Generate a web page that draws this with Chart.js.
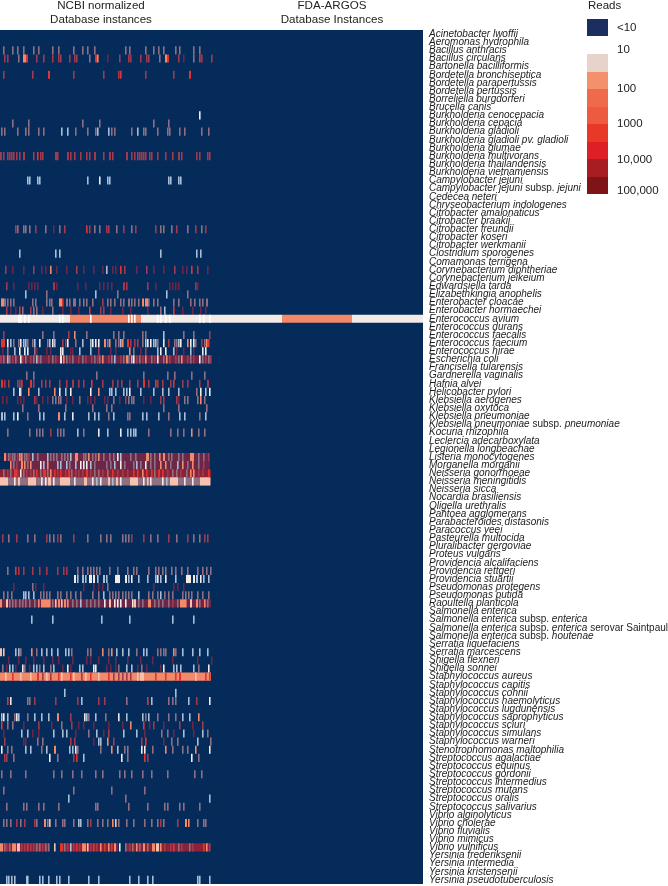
<!DOCTYPE html>
<html>
<head>
<meta charset="utf-8">
<script src="https://cdn.jsdelivr.net/npm/chart.js@4"></script>
<style>
    html, body { margin: 0; padding: 0; background: #fff; }
    body { position: relative; width: 668px; height: 886px; overflow: hidden; font-family: "Liberation Sans", sans-serif; color: #222; }
    canvas { position: absolute; left: 0; top: 0; }
    .title { position: absolute; width: 200px; text-align: center; font-size: 11.6px; line-height: 14px; top: -2px; }
    .swatch { position: absolute; left: 587px; width: 21px; }
    .leg { position: absolute; left: 617px; font-size: 11.5px; line-height: 14px; }
</style>
</head>
<body>
<canvas id="heatmap" width="668" height="886"></canvas>

<div class="title" style="left:1px">NCBI normalized<br>Database instances</div>
<div class="title" style="left:232px">FDA-ARGOS<br>Database Instances</div>
<div class="leg" style="left:588px;top:-2px">Reads</div>
<div id="legend"></div>

<script>
// ========== DATA ==========
const species = [
    'Acinetobacter lwoffii', 'Aeromonas hydrophila', 'Bacillus anthracis', 'Bacillus circulans',
    'Bartonella bacilliformis', 'Bordetella bronchiseptica', 'Bordetella parapertussis', 'Bordetella pertussis',
    'Borreliella burgdorferi', 'Brucella canis', 'Burkholderia cenocepacia', 'Burkholderia cepacia',
    'Burkholderia gladioli', 'Burkholderia gladioli pv. gladioli', 'Burkholderia glumae', 'Burkholderia multivorans',
    'Burkholderia thailandensis', 'Burkholderia vietnamiensis', 'Campylobacter jejuni', 'Campylobacter jejuni subsp. jejuni',
    'Cedecea neteri', 'Chryseobacterium indologenes', 'Citrobacter amalonaticus', 'Citrobacter braakii',
    'Citrobacter freundii', 'Citrobacter koseri', 'Citrobacter werkmanii', 'Clostridium sporogenes',
    'Comamonas terrigena', 'Corynebacterium diphtheriae', 'Corynebacterium jeikeium', 'Edwardsiella tarda',
    'Elizabethkingia anophelis', 'Enterobacter cloacae', 'Enterobacter hormaechei', 'Enterococcus avium',
    'Enterococcus durans', 'Enterococcus faecalis', 'Enterococcus faecium', 'Enterococcus hirae',
    'Escherichia coli', 'Francisella tularensis', 'Gardnerella vaginalis', 'Hafnia alvei',
    'Helicobacter pylori', 'Klebsiella aerogenes', 'Klebsiella oxytoca', 'Klebsiella pneumoniae',
    'Klebsiella pneumoniae subsp. pneumoniae', 'Kocuria rhizophila', 'Leclercia adecarboxylata', 'Legionella longbeachae',
    'Listeria monocytogenes', 'Morganella morganii', 'Neisseria gonorrhoeae', 'Neisseria meningitidis',
    'Neisseria sicca', 'Nocardia brasiliensis', 'Oligella urethralis', 'Pantoea agglomerans',
    'Parabacteroides distasonis', 'Paracoccus yeei', 'Pasteurella multocida', 'Pluralibacter gergoviae',
    'Proteus vulgaris', 'Providencia alcalifaciens', 'Providencia rettgeri', 'Providencia stuartii',
    'Pseudomonas protegens', 'Pseudomonas putida', 'Raoultella planticola', 'Salmonella enterica',
    'Salmonella enterica subsp. enterica', 'Salmonella enterica subsp. enterica serovar Saintpaul', 'Salmonella enterica subsp. houtenae', 'Serratia liquefaciens',
    'Serratia marcescens', 'Shigella flexneri', 'Shigella sonnei', 'Staphylococcus aureus',
    'Staphylococcus capitis', 'Staphylococcus cohnii', 'Staphylococcus haemolyticus', 'Staphylococcus lugdunensis',
    'Staphylococcus saprophyticus', 'Staphylococcus sciuri', 'Staphylococcus simulans', 'Staphylococcus warneri',
    'Stenotrophomonas maltophilia', 'Streptococcus agalactiae', 'Streptococcus equinus', 'Streptococcus gordonii',
    'Streptococcus intermedius', 'Streptococcus mutans', 'Streptococcus oralis', 'Streptococcus salivarius',
    'Vibrio alginolyticus', 'Vibrio cholerae', 'Vibrio fluvialis', 'Vibrio mimicus',
    'Vibrio vulnificus', 'Yersinia frederiksenii', 'Yersinia intermedia', 'Yersinia kristensenii',
    'Yersinia pseudotuberculosis'
];

// labels that mix italic and upright: [italic start, upright, italic, upright]
const mixedLabels = {
    'Campylobacter jejuni subsp. jejuni': ['Campylobacter jejuni', ' subsp. ', 'jejuni'],
    'Klebsiella pneumoniae subsp. pneumoniae': ['Klebsiella pneumoniae', ' subsp. ', 'pneumoniae'],
    'Salmonella enterica subsp. enterica': ['Salmonella enterica', ' subsp. ', 'enterica'],
    'Salmonella enterica subsp. enterica serovar Saintpaul': ['Salmonella enterica', ' subsp. ', 'enterica', ' serovar Saintpaul'],
    'Salmonella enterica subsp. houtenae': ['Salmonella enterica', ' subsp. ', 'houtenae']
};

// Cells per row: column + level letter + optional run width in columns
const r02 = '3g 12g 17g 23g 33g 38g 52g 58g 73g 82g 87g 94g 125g 129g 145g 153g 158g 163g 175g 179g 193g 199g';
const r03 = '4m 7m 18g 23s3 26r2 36m 43m 52m 58m 60m 69m 74m 76m 89g 95r2 97s 107d 119m 128m 130m 140m 146m 148m 159g 165s2 167r2 178m 183d 193g 199r 201m 211m';
const r05 = '3m 32m 48r2 73m 103m 118m 120r 145m 173m 189r2';
const r10 = '199w';
const r11 = '12g 28g 82g 99g 153g 168g';
const r12 = '1g 4g 17g 25g 28g 38g 43g 61p 67p 75g 87g 95g 97p 108p 111g 114g 131g 137p 143g 145g 157g 167g 169g 179g 184g 201g 208g';
const r15 = '0m2 3m 7m 9m 11m 13m 16m 19m 23m2 33m 37r 40m 42m 55m2 57m 67m2 70m 74m 80m 86m 89m 94m2 103m 109m2 112m 126m2 131m 134m 137m 139m 141m 143m 145m 149m 151m 157m 165m 172m 178m2 181m 196m 199m 207m 209m';
const r18 = '27p 29p 37p 39p 87p 99w 107p 109p 168p 170p 178p 180p';
const r24 = '15m 17g 23g 25g 29g 35m 45g 53d 59g 64m 86r 89m 94g 99g 106m 108m 116g 123m 131g 135m 155m 160g 163g 171g 176m 187g 195m 201g 205m';
const r27 = '19p 55p 59p 160p 196p 200p';
const r29 = '5m 12d 23d 33m 41d 45d 50s 56d 66d 76m 83d 93d 102d 106p 112d 115d 120r 124m 136d 146m 153d 163d 174m 182d 186d 191r 197m 207d';
const r31 = '6m 13d 28d 31d 34d 37d 53m2 56d 77d 85d 99d 103d 107d 111d 123m2 126m 147m 155d 169d 172d 175d 178d 195m 197d';
const r32 = '25p 46g 95p 117g 166p 187g';
const r33 = '1s3 4g2 7g 10g 13g 32g 35g 46g 49g 51g 59s3 62r 66g2 69g 73g3 79g 83g 86g 92g 102m 107g 110g 114g 120g 123g 128g2 131g 134g 138g 142s2 145s3 148g 153g 157g 173g 178g 190g 194g 199g 202g 206g2';
const r34 = '6m 10d 15d 19r 22g 30m 33g 36g 42d 52g 62d 70d 78d 89r 100m 103m 110d 122d 130d 147d 160g 164p 173r 182d 192d 200d 205d';
const r35 = '0w70 70s71 141w141 282s70 352w71 18W 20W 24W 28W 59W 62W 90W 128W 131W 134W 157W 160W 165W 169W 199W 203W 209W';
const r37 = '3m 42g 53g 68m 74s 86g 113g 118g 123g 142g 145g 163p 183g 193g 209m';
const r38 = '1r2 3r2 7w 10p 13g 18g 20w 23p 25p 27g 32g 34p 39w 47g 49p 52w 54p 62m 65m 67w 75g 82p 90p 92w 95w 98w 104s2 107g 109s 115g 118g 120p 122s 127r2 130m 134m 137m 142g 145p 147w 150w 153p 155p 157g 163w 168m 174g 176g 178p 180w 187s 190w 193w 195g 201m 204g 206s 208r';
const r39 = '2d 7g 14p 19w 24w 27w 34g 36d 46d 50d 60w 62w 70d 72d 79p 90p 98m 110d 115d 129s 133g 140d 145m 157p 160w 165w 173p 176d 183d 190p 193d 202w 205w';
const r40 = '0d211 0m2 3g 7p 9g 12m 15g 20w 22m 25g 30m 33g 36p 38m 40g 48m 52g 55m 60w2 63s 66g 69m 72g 78m 82g 85m 91m 94g 97m 99g 102s 108m 111g 114p 120m 123g 126s2 128g 131p 133w 136m 139g 142m 145s 151g 154m 157w 163g 166s 169m 175m 178g 181s 187m 190g 193m 199w 202g 205m 208g 210m';
const r42 = '26g 33g 96g 143g 167g 174g 191g 204g';
const r43 = '1r2 4m 8m 17m 19m 21r 30r2 33m 41m 45m 49m 59m 66m 72m2 78m 83m 91r 102m 112m 117m 121m 129m 137m 143r2 148m 155r 157m 162m 170m 173r 182m 187m 199m 207m2';
const r44 = '13p 19w 20p 28s 38p 54s 59w 65p 70w 90w 98s 109p 111p 115p 123p 126p 129w 140p 153p 162p 168p 178p 196g 200w 205p 209w';
const r45 = '2d 6d 17d 20d 23d 34m 36d 42d 47d 52g 55g 58g 60g 66d 72d 79g 87d 90d 94d 104d 107d 113g 119d 125m 128g 131g 133g 143d 150d 160m 163m 176m 178d 184g 187g 197g 200s 204g';
const r46 = '22g 38g 65g 92g 106g 111g 163g 178g 206g';
const r47 = '1p2 4p 13p 17w 27g 39p 43p 58s2 64p 72w 88p 94p 98p 108g 113p 127g 129g 142p 146p 158p 168g 179p 184p 199g 205p';
const r49 = '7g 29g 36g 39g 42g 50m 57g 60g 63g 77p 83g 98w 107p 120w 127p 130p 133p 135p 148g 170g 177g 183g 191s 198g 204g';
const r52 = '4d205 4s2 8g 10m 12g 14g 17m 19s 21s 24g 26g 28m 32p 37g 47p 50g 53g 56g 61g 64g 67g 70p 75s3 83g 85g 88s 92g 95g 98s 103g 109g 113g 117w 120p 130g 135g 146s3 150g 154g 159s 163s2 168g 171g 178g 182g 190s4 198g 203g 208m';
const r53 = '10d200 10s 13g 16m 21s2 24s 27g 30s 40w 43p 47s 57p 60p 66p 69g 75p 80w 83w 86w 90p 94g 106g 110g 114p 120w 124g 133g 136p 140g 145w 150g 154g 160s 165s 170g 177p 182s 187g 192s 198g 203m';
const r54 = '0e211 3g 7m 10g 14r3 17m 20w 23g 26m 30m 33g 36r 40g 43r3 47g 50s 54r 57m 60r 65m 68r2 71g 75m 78m 82m 86r2 90m 94g 98g 102m 107g 112r 117m 122m 127m 133r 137r 142s 146r 151r 154g 158r2 162r 167m 172g 176g 180m 186g 190s 193s 198m 202m 208r';
const r55 = '0g211 0l8 14w 18l2 28l8 41w 45w 48l3 53w 60l10 74w 84l3 92w 96p 100w 108l2 112p 116l2 120w 130l8 143w 147l 150w 162w 166p 170l8 184w 192w 200l10';
const r62 = '2m 8g 16m 27g 34g 46m 49g 53g 57m 60g 73m 87g 100g 106g 110g 122g 125g 128g 131m 143m 150g 157g 168m 176g 187m 193g 199g 204m 207m';
const r66 = '7g 15r 18m 23m 32m 39m 46m 57m 63m 66m 77g 82g 87g 90g 93g 96g 99g 109g 117g 127g 133g 136g 148g 155g 158g 162g 165g 171g 175g 181g 187g 197g 202g 206g 210g';
const r67 = '74w2 77p 82p2 85p 89w3 93w2 97p 103p2 106p 115w5 125w2 128p 131w 138p 147p 155p 157w 160p 165w 175p 186w5 193w2 196p2 200w 203p 208p';
const r68 = '13d 32g 35d 43d 83d 93d 98d 102d 107g 153d 173d 177d 183d';
const r69 = '3g 7g 11g 23p 25p 28p 33p 40g 43g 46g 49g 57g 60g 66g 70g 75g 80g 92g 98g 103p 109g 112g 115g 118g 122g 125g 128g 131g 138p 148g 152g 157g 160p 164g 168g 172g 182g 185g 188g 191g 197g 202g 208g';
const r70 = '0d211 0s2 6l2 9g 12g 15g 19g 22g 25g 29g 34g 38s 41s5 46s3 49s 52g 55l 58s2 61l 64s2 67s 72g 76g 80p 86g 90g 94g 98g 104w 109l2 114w 117w 120w 125w 132w 134l2 138g 142g 148s3 154g 158g 162g 168g 172m 177g 180s5 185s 190l2 196s2 199g 204s 207g';
const r72 = '31p 52p 101p 129p 172p 193p';
const r76 = '0l2 3l 15p 18p 20g 31s 36g 41p 46p 51p 57p 65p 68p 71g 87g 90g 102s 108g 111s 116p 122p 128p 136g 143p 146p 157g 160g 163g 165g 173s 175g 182p 192p 199p 207p';
const r77 = '8d 18d 25d 33d 43d 52d 58d 72d 86d 90d 98d 108d 115d 127d 140d 152d 172d 197d 211d';
const r78 = '2g 6d 9p 12p 15d 22w 24g 29d 33p 36p 39g 43p 50g 53p 62d 67w 70d 79p 82p 93w 95w 106d 110d 115d 118g 126p 131p 137d 141g 146d 160d 163w 173p 176p 180p 193p 198g 208w';
const r79 = '0s211 5l 12r 20l 30l 37r2 42m 46l 50m 58r 61l 70r 73l 81m 85l 90r 98l 108r 113m 118m 122m 126m 130m 137l 140l4 155r 165r 175r 179r2 195l 205r 209r';
const r81 = '64p 175p';
const r82 = '7r 10w 27g 29g 34m 55m 77m 81p 98m 104m 126g 147r 151p 168g 172g 175g 188p 196m 209w';
const r84 = '1p 3w 7p 14g 16w 18p 27g 34p 41p 48p 57s2 70m 84w 86p 88g 95p 105g 118w 126p 142p 145g 148p 157g 168g 175g 182p 189p 198s';
const r85 = '1r 7g 12g 23d 38m 51d 61g 71m 78d 83d 93d 108d 122d 130s 143r 149d 153m 163d 179m 192d 202m';
const r86 = '3d 21p 27p 32d 38d 53p 62p 66p 75d 88g 96p 103d 108m 123p 136p 144d 161g 167g 173d 183p 193d 202p 207g';
const r87 = '4m 23d 25d 37g 42g 70m 74m 93d 98p 100p 107s 113m 141m 145r 163d 171g 177g 197p 210g';
const r88 = '1w 7g 11g 25p 30p 41g 46p 54s2 69p 72p 75w 77g 100g 111s 117p 124g 127g 141w 144w 152g 165s 172g 182g 187g 195s 209w';
const r89 = '4m 6m 13g 49w 57g 73m 76r 83p 121w 127g 144r 147m 191w 198g';
const r91 = '1g 10g 25g 53g 61g 72g 81g 95g 102g 119g 124g 131g 142g 151g 167g 194g 201g';
const r93 = '3g 73g 111g 144g';
const r94 = '68p 125g 209p';
const r95 = '6g 23g 26g 38g 43g 58g 95g 97g 128g 147g 164g 167g 179g 183g 199g';
const r97 = '3g 6g 10g 16m 20g 24m 34m 36g 44s2 47g 49l 55g 62g 64g 73g 78p 80p 87g 90m 97g 102g 107g 112s 115l 118g 126g 133g 144g 151g 157g 160m 163g 177m 185s2 188s 197g 203g 205g';
const r100 = '0e49 60e58 125e85 0s3 4g 6m 9g 12s4 17l3 21m 24m 27r 30m 33m 36g 39g 42m 45g 48g 54l 60r3 64g 67m 70p 73m 76r 79m 82s4 87l 90m 93r 96m 100s 104r 108s 111r 114s2 119w 125g 129m 132g 136s 139g 143s2 147g 152s3 156l3 160s 164m 170m 173r 178g 181m 189g 192m 203r 206s 209m';
const r104 = '6p 8p 11p 14p 26p 27p 39p 42p 48p 56p 59p 68p 88p 98p 129p 138p 147p 152p 197p 199p 209p';

const markedRows = [
    [2, r02], [3, r03], [5, r05], [10, r10], [11, r11], [12, r12], [15, r15], [18, r18], [24, r24], [27, r27],
    [29, r29], [31, r31], [32, r32], [33, r33], [34, r34], [35, r35], [37, r37], [38, r38], [39, r39], [40, r40],
    [42, r42], [43, r43], [44, r44], [45, r45], [46, r46], [47, r47], [49, r49], [52, r52], [53, r53], [54, r54],
    [55, r55], [62, r62], [66, r66], [67, r67], [68, r68], [69, r69], [70, r70], [72, r72], [76, r76], [77, r77],
    [78, r78], [79, r79], [81, r81], [82, r82], [84, r84], [85, r85], [86, r86], [87, r87], [88, r88], [89, r89],
    [91, r91], [93, r93], [94, r94], [95, r95], [97, r97], [100, r100], [104, r104]
];

// Level letters in drawing order, with the colour they show at this size
const levelKeys = ['e', 'd', 'g', 'p', 's', 'l', 'm', 'r', 'w', 'W'];
const levelColors = ['#8a2238', '#6b2648', '#8f6f82', '#a8bed6', '#f4896a', '#f6c2ae', '#a03a4e', '#e0352f', '#f2ebe8', '#ffffff'];

const legendColors = ['#e8d3cc', '#f4906c', '#ef6a4a', '#ee5a3f', '#e83828', '#dd2025', '#a81d22', '#7e1418'];
const legendTicks = ['10', '100', '1000', '10,000', '100,000'];
const legendTickTops = [42, 81, 116, 152, 183];
// ===================================

const COLUMNS = 423;
const CELL_WIDTH = 1.6;
const LABEL_FONT = '"Liberation Sans", sans-serif';
const LABEL_SIZE = 10;
const LABEL_PADDING = 6;

function buildLevelData(level) {
    const out = [];
    markedRows.forEach(([rowIndex, cells]) => {
        cells.split(' ').forEach(token => {
            const m = token.match(/^(\d+)([a-zA-Z])(\d*)$/);
            if (m[2] !== level) return;
            const start = +m[1];
            const width = m[3] ? +m[3] : CELL_WIDTH;
            out.push({ x: [start, start + width], y: species[rowIndex] });
        });
    });
    return out;
}

const cellDatasets = levelKeys.map((key, i) => ({
    label: key,
    data: buildLevelData(key),
    backgroundColor: levelColors[i],
    grouped: false,
    barPercentage: 1,
    categoryPercentage: 1,
    inflateAmount: 0
}));

const backgroundDataset = {
    label: '<10',
    data: species.map(name => ({ x: [0, COLUMNS], y: name })),
    backgroundColor: '#042b5a',
    grouped: false,
    barPercentage: 1,
    categoryPercentage: 1,
    inflateAmount: 0.5
};

// Finish the labels that change between italic and upright
const mixedLabelPlugin = {
    id: 'mixedLabels',
    afterDraw(chart) {
        const scale = chart.scales.y;
        const ctx = chart.ctx;
        ctx.save();
        ctx.textBaseline = 'middle';
        ctx.fillStyle = '#1c1c1c';
        species.forEach((name, i) => {
            const parts = mixedLabels[name];
            if (!parts) return;
            const y = scale.getPixelForTick(i);
            ctx.font = `italic ${LABEL_SIZE}px ${LABEL_FONT}`;
            let x = scale.left + LABEL_PADDING + ctx.measureText(parts[0]).width;
            parts.slice(1).forEach((part, p) => {
                ctx.font = `${p % 2 === 0 ? '' : 'italic '}${LABEL_SIZE}px ${LABEL_FONT}`;
                ctx.fillText(part, x, y);
                x += ctx.measureText(part).width;
            });
        });
        ctx.restore();
    }
};

new Chart(document.getElementById('heatmap').getContext('2d'), {
    type: 'bar',
    data: {
        labels: species,
        // the first dataset is painted last, so the navy rows go at the end
        datasets: [...cellDatasets].reverse().concat(backgroundDataset)
    },
    options: {
        indexAxis: 'y',
        responsive: false,
        animation: false,
        layout: { autoPadding: false, padding: { top: 30, bottom: 2, left: 0, right: 0 } },
        plugins: { legend: { display: false }, tooltip: { enabled: false } },
        scales: {
            x: { display: false, min: 0, max: COLUMNS },
            y: {
                position: 'right',
                grid: { display: false, drawTicks: false },
                border: { display: false },
                afterFit: scale => {
                    scale.width = 668 - COLUMNS;
                    // half a label of margin otherwise eats the bottom rows
                    scale.paddingBottom = 0;
                    scale.paddingTop = 0;
                },
                ticks: {
                    autoSkip: false,
                    padding: LABEL_PADDING,
                    color: '#1c1c1c',
                    font: { family: LABEL_FONT, size: LABEL_SIZE, style: 'italic' },
                    callback: function(value) {
                        const name = this.getLabelForValue(value);
                        return mixedLabels[name] ? mixedLabels[name][0] : name;
                    }
                }
            }
        }
    },
    plugins: [mixedLabelPlugin]
});

// Legend on the right
const legendBox = document.getElementById('legend');
function addSwatch(top, height, color) {
    const d = document.createElement('div');
    d.className = 'swatch';
    d.style.top = top + 'px';
    d.style.height = height + 'px';
    d.style.background = color;
    legendBox.appendChild(d);
}
function addLegendText(top, text) {
    const d = document.createElement('div');
    d.className = 'leg';
    d.style.top = top + 'px';
    d.textContent = text;
    legendBox.appendChild(d);
}
addSwatch(19, 17, '#1a2f5f');
addLegendText(20, '<10');
legendColors.forEach((c, i) => addSwatch(54 + i * 17.5, 17.5, c));
legendTicks.forEach((t, i) => addLegendText(legendTickTops[i], t));
</script>
</body>
</html>
